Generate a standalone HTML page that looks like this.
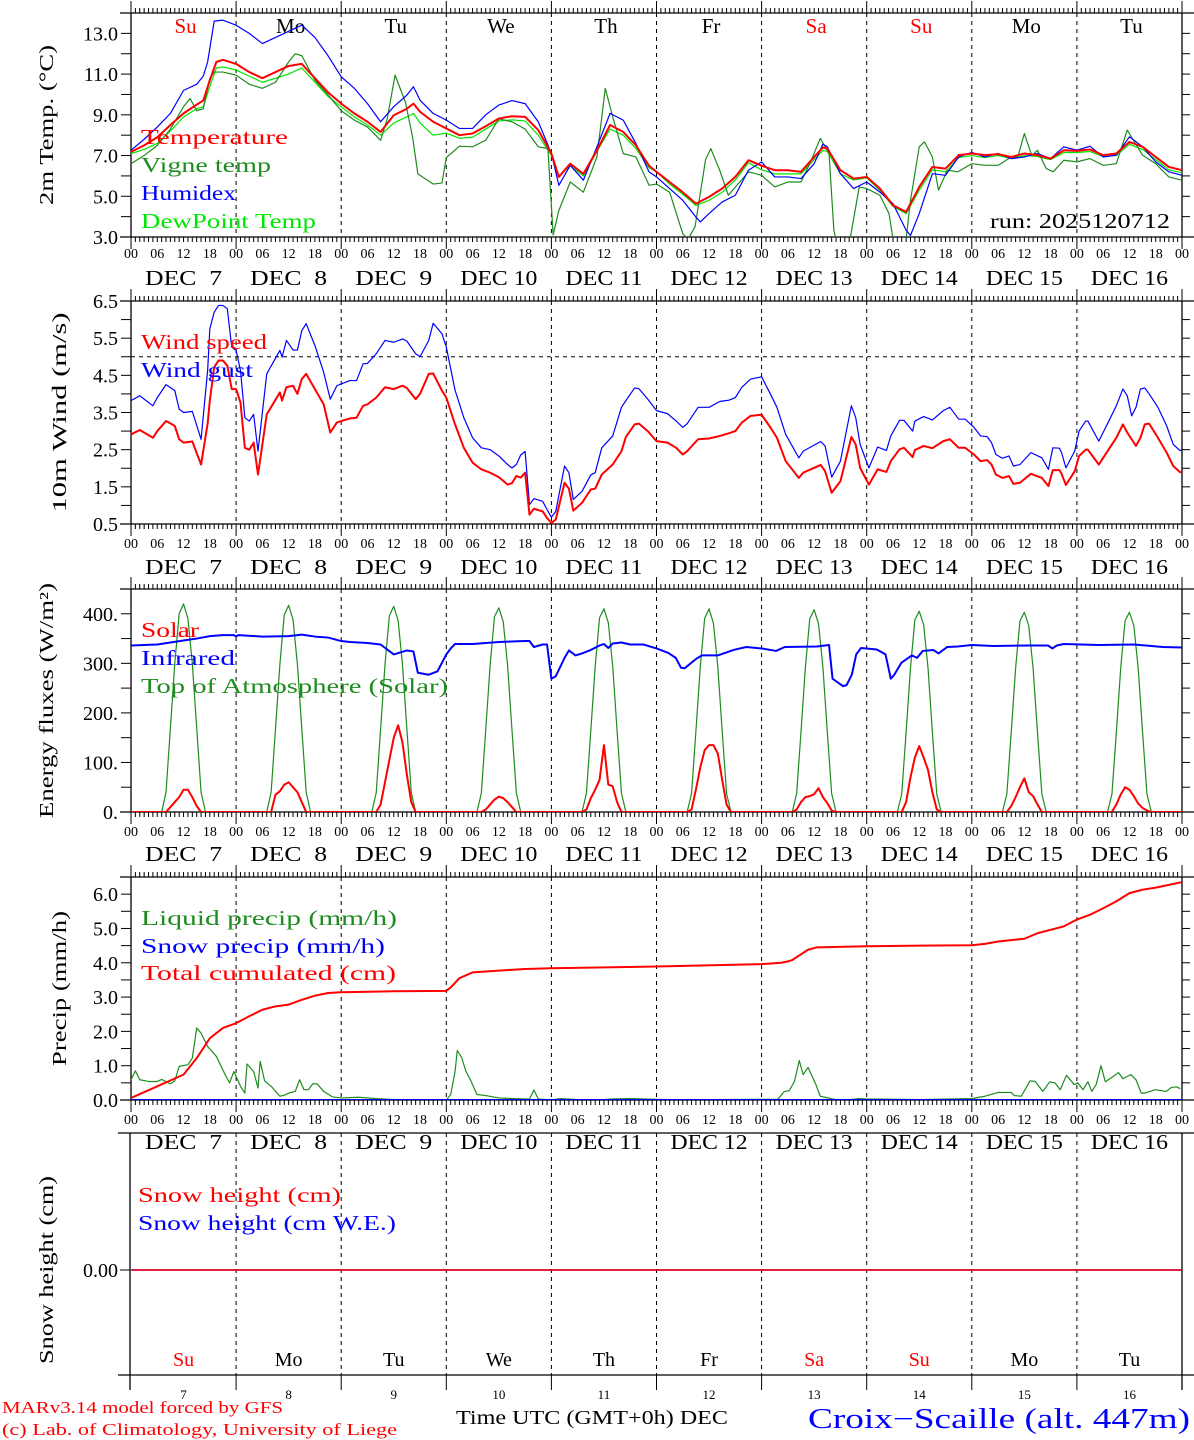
<!DOCTYPE html>
<html><head><meta charset="utf-8"><style>
html,body{margin:0;padding:0;background:#fff;}
svg{display:block;}
</style></head><body>
<svg id="chart" xmlns="http://www.w3.org/2000/svg" width="1194" height="1440" viewBox="0 0 1194 1440">
<defs>
<clipPath id="c1"><rect x="131" y="13" width="1051" height="224"/></clipPath>
<clipPath id="c2"><rect x="131" y="301" width="1051" height="223"/></clipPath>
<clipPath id="c3"><rect x="131" y="589" width="1051" height="223"/></clipPath>
<clipPath id="c4"><rect x="131" y="877" width="1051" height="223"/></clipPath>
</defs>
</svg>
<script>
// ---------- DATA ----------
const dayNames = ["Su","Mo","Tu","We","Th","Fr","Sa","Su","Mo","Tu"];
const dayNameRed = [true,false,false,false,false,false,true,true,false,false];
const dayNumbers = ["7","8","9","10","11","12","13","14","15","16"];
const hourLabels = ["00","06","12","18"];

// Panel 1: temperatures
const tHours = [0,3,6,9,12,15,16.5,18,19.5,21,24,27,30,33,36,39,42,45,48,51,54,57,60,63,64.5,66,69,72,75,78,81,84,87,90,93,96,97.7,100.3,103.3,106.4,109.4,112.4,115.3,118.3,120,123,126,129,132,135,138,141,144,147,150,153,156,158,159,162,165,168,171,174,177,180,183,186,189,192,195,198,201,204,207,210,213,216,219,222,225,228,231,234,237,240];
const tempVals = [7.18,7.5,7.9,8.5,9.07,9.5,9.7,10.7,11.6,11.7,11.5,11.1,10.8,11.1,11.4,11.5,10.8,10.1,9.55,9.07,8.66,8.16,8.98,9.3,9.55,9.15,8.66,8.33,8.0,8.08,8.44,8.82,8.93,8.9,8.25,7.1,5.95,6.6,6.1,7.26,8.5,8.16,7.5,6.5,6.2,5.7,5.2,4.64,4.97,5.38,5.95,6.77,6.5,6.28,6.28,6.2,6.93,7.4,7.34,6.28,5.87,5.95,5.38,4.56,4.23,5.46,6.44,6.36,7.02,7.1,7.02,7.07,6.93,7.1,7.02,6.85,7.26,7.23,7.3,7.02,7.1,7.67,7.43,6.93,6.44,6.28];
const dewVals = [7.1,7.3,7.6,8.2,8.9,9.3,9.4,10.4,11.3,11.35,11.2,10.9,10.6,10.8,11.0,11.3,10.6,9.9,9.4,8.9,8.5,8.0,8.6,8.9,9.07,8.6,8.0,8.1,7.85,7.9,8.3,8.7,8.75,8.7,8.0,7.0,6.0,6.5,6.0,7.2,8.3,8.0,7.35,6.4,6.2,5.6,5.1,4.55,4.8,5.2,5.8,6.65,6.3,6.1,6.1,6.1,6.8,7.25,7.2,6.1,5.8,5.9,5.3,4.5,4.15,5.3,6.3,6.2,6.9,7.0,6.9,7.0,6.85,7.0,6.95,6.8,7.15,7.15,7.2,6.95,7.0,7.55,7.3,6.8,6.3,6.15];
const humHours = [0,3,6,9,12,15,16.5,17.5,19,21,24,27,30,33,36,39,42,45,48,51,54,57,60,63,64.5,66,69,72,75,78,81,84,87,90,93,96,97.7,100.3,103.3,106.4,109.4,112.4,115.3,118.3,120,123,126,129,130,132,135,138,141,144,147,150,153,156,158,159,162,165,168,171,174,177,178,180,183,186,189,192,195,198,201,204,207,210,213,216,219,222,225,228,231,234,237,240];
const humVals = [7.26,7.8,8.4,9.07,10.2,10.5,10.9,11.6,13.6,13.65,13.4,13.0,12.5,12.8,13.1,13.4,12.8,11.9,10.87,10.3,9.55,8.66,9.4,9.97,10.38,9.72,9.07,8.74,8.33,8.33,9.0,9.48,9.7,9.55,8.66,7.1,5.54,6.52,5.79,7.43,9.07,8.74,7.59,6.2,5.95,5.38,4.8,3.98,3.74,4.15,4.72,5.05,6.28,6.69,5.95,5.95,5.87,6.6,7.56,7.43,6.11,5.38,5.7,5.21,4.64,3.33,3.08,4.15,6.11,6.03,6.93,7.15,6.93,7.1,6.85,6.93,7.1,6.85,7.43,7.26,7.46,6.93,7.02,7.92,7.43,6.69,6.2,6.03];
const vigHours = [0,3,6,9,12,13.5,15,16.5,18,19,21,24,27,30,33,36,37.5,39,42,45,48,51,54,57,58.5,60.3,62.7,64.3,65.5,69,71,72,75,78,81,84,87,90,93,95.2,96.4,97.7,100.3,103.3,106.4,108.3,110,112.4,115.3,118.3,120,123,126,127.2,128.8,131.2,132.4,134.4,136.4,141,144,147,150,153,155,157.4,159.4,160.5,161.4,164.2,166.3,168,171,173.1,174,177,178,180,181.2,183,184.4,186.4,188.8,192,195,198,201,202.5,204,205.7,207,209,210.6,213,216,219,222,225,227.5,231,234,237,240];
const vigVals = [6.6,7.0,7.5,8.3,9.4,9.8,9.2,9.3,10.8,11.1,11.1,10.95,10.5,10.3,10.6,11.6,12.0,11.9,10.7,9.97,9.2,8.74,8.4,7.75,8.8,10.95,9.6,7.9,6.1,5.6,5.65,6.9,7.46,7.43,7.75,8.8,8.66,8.3,7.43,7.34,3.1,4.3,5.7,5.2,6.93,10.3,8.9,7.1,6.93,5.54,5.6,5.2,3.16,2.9,3.5,6.8,7.34,6.3,5.05,6.2,6.03,5.46,5.7,5.7,6.6,7.84,7.1,3.33,2.5,2.9,5.46,5.38,5.05,4.15,2.9,2.9,4.8,7.43,7.67,6.93,5.3,6.28,6.2,6.6,6.52,6.52,6.93,6.93,8.08,7.0,7.26,6.36,6.2,6.77,6.69,6.85,6.52,6.6,8.25,7.02,6.6,5.95,5.79];

// Panel 2: wind
const windHours = [0,2,5,6,8,10,11,12,14,16,17.5,18,19,20,21,22,23,24,25,26,27,28,29,31,34,34.5,35.5,37,38,39,40,42,44,45.5,47,48,50,51.5,53,54,56,58,60,62,63,65,66,68,69,71,72,74,76,78,80,82,84,86,87,88,89,90,91,92,94,95,96,97,99,100,101,103,105,106,107.5,110,112,113,115,116,118,
 120,122.5,124.5,126,127,129.5,132,134.5,136.5,138,139.5,141.5,144,146,147.5,149.5,152.5,153.5,157.5,158.5,160,162,164.5,165.5,166.5,168.5,170.5,172.5,173.5,175.5,176.5,178.5,179,181,183,185.5,187,189,190.5,192.5,194,195.5,196.5,197.5,199,200.5,201.5,203,205.5,208,209.5,210.5,212,212.5,213.5,215.5,216.5,218,218.5,221,223.5,225,226.5,227.5,228.5,229.5,230.5,231.5,232.5,234.5,236.5,238,239.5,240];
const windSpeed = [2.91,3.03,2.82,3.0,3.27,3.14,2.78,2.69,2.72,2.1,3.2,3.82,4.72,4.9,4.9,4.76,4.13,4.13,3.77,2.55,2.5,2.69,1.83,3.45,4.04,3.82,4.18,4.22,4.0,4.4,4.54,4.13,3.72,2.96,3.23,3.27,3.34,3.36,3.68,3.72,3.9,4.18,4.13,4.22,4.16,3.86,4.0,4.54,4.55,4.09,3.9,3.18,2.55,2.15,1.97,1.88,1.76,1.56,1.6,1.79,1.75,1.88,0.75,0.91,0.84,0.66,0.53,0.62,1.61,1.45,0.86,1.07,1.43,1.45,1.83,2.1,2.46,2.84,3.18,3.2,3.0,
 2.73,2.69,2.55,2.37,2.46,2.78,2.8,2.87,2.94,3.0,3.23,3.41,3.44,3.1,2.82,2.19,1.74,1.88,2.09,1.92,1.34,1.65,2.84,2.64,2.01,1.56,1.97,1.9,2.19,2.51,2.55,2.3,2.49,2.6,2.54,2.73,2.78,2.55,2.55,2.37,2.19,2.22,2.1,1.83,1.74,1.79,1.58,1.61,1.85,1.74,1.52,1.95,1.95,1.85,1.55,1.92,2.33,2.5,2.5,2.1,2.55,2.82,3.18,2.96,2.78,2.6,2.82,3.18,3.2,2.82,2.42,2.06,1.9,1.88];
const windGust = [3.82,3.95,3.68,3.9,4.25,4.09,3.59,3.5,3.53,2.78,4.63,5.75,6.2,6.38,6.38,6.29,5.26,5.17,4.63,3.36,3.27,3.45,2.46,4.54,5.17,4.99,5.44,5.18,5.18,5.7,5.89,5.3,4.58,3.86,4.22,4.27,4.36,4.36,4.81,4.82,5.08,5.44,5.39,5.48,5.42,5.08,5.0,5.44,5.9,5.62,5.26,4.1,3.36,2.82,2.55,2.5,2.33,2.1,2.01,2.1,2.36,2.45,1.02,1.18,1.11,0.89,0.68,0.84,2.06,1.88,1.16,1.38,1.82,1.88,2.55,2.87,3.64,3.82,4.16,4.14,3.86,
 3.55,3.47,3.27,3.1,3.2,3.64,3.64,3.8,3.83,3.9,4.18,4.4,4.46,4.0,3.64,2.91,2.28,2.46,2.72,2.6,1.76,2.19,3.68,3.36,2.64,2.01,2.57,2.48,2.87,3.29,3.29,3.0,3.27,3.39,3.3,3.55,3.64,3.32,3.32,3.1,2.87,2.85,2.69,2.37,2.27,2.33,2.06,2.1,2.42,2.28,1.97,2.55,2.54,2.42,2.01,2.46,3.0,3.27,3.27,2.73,3.32,3.68,4.13,3.95,3.41,3.64,4.13,4.16,4.0,3.64,3.14,2.64,2.48,2.48];

// Panel 3: energy fluxes (day profiles, hours 7..17 of each day)
const fluxDayHours = [7,8,9,10,11,12,13,14,15,16,17];
const solarByDay = [
 [0,0,10,20,30,45,45,30,12,0,0],
 [0,0,35,42,55,60,50,40,20,0,0],
 [0,0,15,60,105,150,175,140,75,20,0],
 [0,0,5,15,25,31,28,20,10,0,0],
 [0,5,28,45,65,135,55,52,20,0,0],
 [0,5,45,90,125,135,135,118,65,15,0],
 [0,5,20,30,32,36,48,30,18,3,0],
 [0,0,20,70,110,133,110,85,40,5,0],
 [0,0,12,30,50,68,40,32,15,0,0],
 [0,0,15,35,50,45,32,17,8,3,0]];
const toaByDay = [
 [0,40,170,300,400,420,390,300,170,40,0],
 [0,40,168,298,398,417,388,298,168,40,0],
 [0,39,167,297,396,415,386,297,167,39,0],
 [0,38,165,295,394,412,384,295,165,38,0],
 [0,38,164,294,392,410,382,294,164,38,0],
 [0,37,163,293,391,410,381,293,163,37,0],
 [0,37,162,292,390,408,380,292,162,37,0],
 [0,36,161,291,388,405,378,291,161,36,0],
 [0,36,160,290,386,403,376,290,160,36,0],
 [0,36,160,290,386,403,376,290,160,36,0]];
const irHours = [0,6,12,15,18,21,23.5,24,24.5,30,36,39,42,45,48,50,54,57,60,63,64.5,65.5,68,70,72,73,74,78,84,90,91,92,94,95,96,97,99,100,101.5,103,105,107,108,109,110,112,114,117,120,122.7,124.4,125.6,126.4,129.2,130.4,134,137.6,140.5,144,147.3,149.3,156.6,159.4,160.2,162.6,163.4,164.6,165.6,166.7,170.3,172.3,173.5,174.3,175.9,178.3,179.5,180.8,183.2,184.4,186.4,188.8,192,196.9,204.9,209.4,210.4,211.4,213,221,229.1,235.6,240];
const irVals = [336,338,346,350,355,357,357,354,357,354,355,358,354,352,345,343,341,338,318,326,324,281,277,284,318,330,339,339,343,345,345,333,338,338,269,274,311,326,316,320,327,336,339,331,340,342,338,338,330,321,311,291,290,310,316,316,327,333,330,325,333,334,337,269,254,256,277,318,331,328,318,269,277,301,316,311,325,327,320,333,334,337,335,336,336,330,336,339,337,338,333,332];

// Panel 4: precipitation
const cumHours = [0,6,12,15,18,21,24,27,30,33,36,39,42,45,48,60,72,73,75,78,84,90,96,120,144,148.5,150,151,152.2,154.6,156.6,168,180,192,195,198,201,204,207,210,213,216,219,222,225,228,231,234,237,240];
const cumVals = [0.06,0.4,0.74,1.22,1.8,2.1,2.24,2.44,2.63,2.73,2.78,2.92,3.04,3.12,3.14,3.17,3.18,3.28,3.55,3.72,3.77,3.82,3.84,3.89,3.96,4.0,4.04,4.08,4.18,4.38,4.45,4.48,4.5,4.51,4.55,4.62,4.66,4.7,4.86,4.96,5.06,5.26,5.4,5.59,5.79,6.03,6.13,6.19,6.27,6.35];
const liqHours = [0,1,2,4,6,7,9,10,11,13,14,15,16,17.5,19.5,21.5,22.5,23.5,25,26,26.5,28,29,29.5,30.5,32,34,35,36,37.5,38.5,39.5,40.5,41.5,42.5,44,46,48,52,56,60,64,72,73,74,74.5,75.5,76.5,77.5,79,81,84,90,91,92,93,96,98,102,108,110,114,120,126,132,144,147.7,149.2,150.3,151.5,152.6,153.5,154.6,156.4,157.4,160.6,163.4,166.3,168,180,192,195,198,201,201.7,203.3,205.3,206.5,208.2,209.8,211,212.2,213.6,215.4,216.2,217.4,218.5,219.4,220.4,221.5,222.5,224.3,225.5,226.5,228.3,229.5,230.7,231.5,233.9,236.4,237.6,238.8,239.6];
const liqVals = [0.59,0.85,0.59,0.54,0.54,0.6,0.47,0.56,0.98,1.03,1.22,2.1,1.95,1.56,1.27,0.74,0.5,0.83,0.4,0.2,1.05,0.83,0.35,1.13,0.56,0.4,0.11,0.14,0.2,0.25,0.59,0.3,0.3,0.47,0.47,0.25,0.09,0.06,0.08,0.04,0.01,0,0,0.16,0.83,1.44,1.24,0.83,0.59,0.16,0.13,0.06,0.03,0.03,0.29,0.03,0,0.04,0.01,0.01,0.03,0.04,0.02,0,0.01,0.02,0.02,0.25,0.27,0.54,1.15,0.74,0.95,0.45,0.11,0.02,0,0.04,0.03,0.01,0.04,0.11,0.22,0.22,0.13,0.11,0.56,0.54,0.25,0.53,0.5,0.3,0.72,0.45,0.5,0.3,0.53,0.25,0.45,1.0,0.53,0.69,0.8,0.62,0.74,0.59,0.2,0.2,0.3,0.25,0.37,0.38,0.33];
const snowPrecipHours = [0,240];
const snowPrecipVals = [0,0];

// Panel 5: snow height
const snowHours = [0,240];
const snowCmVals = [0,0];
const snowWeVals = [0,0];

// ---------- DRAWING ----------
const NS = "http://www.w3.org/2000/svg";
const svg = document.getElementById("chart");
const X0 = 131, X1 = 1182;
function xOf(h){ return X0 + h*(X1-X0)/240; }
function mk(tag, attrs, parent){
  const el = document.createElementNS(NS, tag);
  for (const k in attrs) el.setAttribute(k, attrs[k]);
  (parent||svg).appendChild(el);
  return el;
}
function txt(x, y, s, o){
  o = o||{};
  const el = mk("text", {x:x, y:y, "font-family":o.ff||"'Liberation Serif', serif", "font-size":o.fs||16, fill:o.fill||"#000", "text-anchor":o.anchor||"start"}, o.parent);
  if (o.len){ el.setAttribute("textLength", o.len); el.setAttribute("lengthAdjust","spacingAndGlyphs"); }
  if (o.rot){ el.setAttribute("transform","rotate(-90 "+x+" "+y+")"); }
  el.textContent = s;
  return el;
}
function line(x1,y1,x2,y2,stroke,w,dash,parent){
  const a = {x1:x1,y1:y1,x2:x2,y2:y2,stroke:stroke||"#000","stroke-width":w||1};
  if (dash) a["stroke-dasharray"] = dash;
  return mk("line", a, parent);
}
function series(hours, vals, yOf, color, width, clip, name){
  let d = "";
  for (let i=0;i<hours.length;i++){
    d += (i?"L":"M") + xOf(hours[i]).toFixed(2) + "," + yOf(vals[i]).toFixed(2);
  }
  const p = mk("path", {d:d, fill:"none", stroke:color, "stroke-width":width, "stroke-linejoin":"round", "clip-path":"url(#"+clip+")"});
  
  
  return p;
}

function panel(cfg){
  const g = mk("g", {});
  
  
  const yOf = v => cfg.bottom - (v-cfg.ymin)*(cfg.bottom-cfg.top)/(cfg.ymax-cfg.ymin);
  line(120, cfg.top, 1194, cfg.top, "#000", 1.3, null, g);
  line(120, cfg.bottom, 1194, cfg.bottom, "#000", 1.3, null, g);
  line(X0, cfg.top, X0, cfg.bottom, "#000", 1.3, null, g);
  line(X1, cfg.top, X1, cfg.bottom, "#000", 1.3, null, g);
  for (let d=1; d<10; d++){
    const x = xOf(d*24);
    line(x, cfg.top, x, cfg.bottom, "#000", 1, "4,4", g);
  }
  for (let h=0; h<=240; h++){
    const x = xOf(h);
    const len = (h%24===0) ? 12 : 5;
    line(x, cfg.top-len, x, cfg.top, "#000", 1, null, g);
    line(x, cfg.bottom, x, cfg.bottom+len, "#000", 1, null, g);
  }
  for (let v=cfg.ymin; v<=cfg.ymax+1e-6; v+=cfg.tickStep){
    const y = yOf(v);
    line(121, y, X0, y, "#000", 1, null, g);
    line(X1, y, 1190, y, "#000", 1, null, g);
  }
  cfg.yLabels.forEach(lbl => {
    const t = txt(118, yOf(parseFloat(lbl))+7, lbl, {anchor:"end", fs:20, parent:g});
    
    
  });
  for (let d=0; d<=10; d++){
    for (let k=0; k<4; k++){
      if (d===10 && k>0) break;
      const x = xOf(d*24 + k*6);
      const t = txt(x, cfg.bottom+cfg.hlOff, hourLabels[k], {anchor:"middle", fs:14, parent:g});
      
      
    }
  }
  for (let d=0; d<10; d++){
    const cx = xOf(d*24+12);
    const s = "DEC " + (dayNumbers[d].length===1 ? " " : "") + dayNumbers[d];
    const t = txt(cx, cfg.bottom+cfg.dlOff, s, {anchor:"middle", fs:21, len:77, parent:g});
    t.setAttribute("xml:space","preserve");
    t.style.whiteSpace = "pre";
    
    
  }
  const yt = txt(cfg.titleX, (cfg.top+cfg.bottom)/2, cfg.title, {anchor:"middle", fs:20, rot:true, len:cfg.titleLen, parent:g});
  
  
  return yOf;
}

// ---- Panel 1
const y1 = panel({name:"temperature-panel", top:13, bottom:237, ymin:3, ymax:14, tickStep:1,
  yLabels:["13.0","11.0","9.0","7.0","5.0","3.0"], hlOff:21, dlOff:48, title:"2m Temp. (\u00B0C)", titleX:53, titleLen:160});
for (let d=0; d<10; d++){
  const t = txt(xOf(d*24+12)+2, 33, dayNames[d], {anchor:"middle", fs:21, fill: dayNameRed[d]?"#ff0000":"#000"});
  
  
}
series(tHours, dewVals, y1, "#00e600", 1.2, "c1", "dewpoint-line");
series(vigHours, vigVals, y1, "#1e8c1e", 1.2, "c1", "vigne-temp-line");
series(humHours, humVals, y1, "#0000ff", 1.2, "c1", "humidex-line");
series(tHours, tempVals, y1, "#ff0000", 2, "c1", "temperature-line");
[["Temperature","#ff0000",144,147],["Vigne temp","#1e8c1e",172,130],["Humidex","#0000ff",200,95],["DewPoint Temp","#00e600",228,175]].forEach(l=>{
  const t = txt(141, l[2], l[0], {fill:l[1], fs:21, len:l[3]});
  
  
});
{ const t = txt(990, 228, "run: 2025120712", {fs:21, len:180});
  
   }

// ---- Panel 2
const y2 = panel({name:"wind-panel", top:301, bottom:524, ymin:0.5, ymax:6.5, tickStep:0.5,
  yLabels:["6.5","5.5","4.5","3.5","2.5","1.5","0.5"], hlOff:24, dlOff:50, title:"10m Wind (m/s)", titleX:66, titleLen:200});
{ const y = y2(5.0); const l = line(X0, y, X1, y, "#000", 1, "4,4");
  
   }
series(windHours, windGust, y2, "#0000ff", 1.2, "c2", "wind-gust-line");
series(windHours, windSpeed, y2, "#ff0000", 2, "c2", "wind-speed-line");
[["Wind speed","#ff0000",349,126],["Wind gust","#0000ff",377,112]].forEach(l=>{
  const t = txt(141, l[2], l[0], {fill:l[1], fs:21, len:l[3]});
  
  
});

// ---- Panel 3
const y3 = panel({name:"energy-panel", top:589, bottom:812, ymin:0, ymax:450, tickStep:50,
  yLabels:["400.","300.","200.","100.","0."], hlOff:24, dlOff:49, title:"Energy fluxes (W/m\u00B2)", titleX:53, titleLen:235});
function dayProfile(byDay){
  const hs=[0], vs=[0];
  for (let d=0; d<10; d++){
    for (let i=0;i<fluxDayHours.length;i++){ hs.push(d*24+fluxDayHours[i]); vs.push(byDay[d][i]); }
  }
  hs.push(240); vs.push(0);
  return [hs,vs];
}
const toaP = dayProfile(toaByDay);
series(toaP[0], toaP[1], y3, "#1e8c1e", 1.2, "c3", "toa-solar-line");
const solP = dayProfile(solarByDay);
series(solP[0], solP[1], y3, "#ff0000", 2, "c3", "solar-line");
series(irHours, irVals, y3, "#0000ff", 2, "c3", "infrared-line");
[["Solar","#ff0000",637,58],["Infrared","#0000ff",665,94],["Top of Atmosphere (Solar)","#1e8c1e",693,307]].forEach(l=>{
  const t = txt(141, l[2], l[0], {fill:l[1], fs:21, len:l[3]});
  
  
});

// ---- Panel 4
const y4 = panel({name:"precip-panel", top:877, bottom:1100, ymin:0, ymax:6.5, tickStep:0.5,
  yLabels:["6.0","5.0","4.0","3.0","2.0","1.0","0.0"], hlOff:24, dlOff:49, title:"Precip (mm/h)", titleX:66, titleLen:155});
series(liqHours, liqVals, y4, "#1e8c1e", 1.2, "c4", "liquid-precip-line");
series(snowPrecipHours, snowPrecipVals, y4, "#0000ff", 2, "c4", "snow-precip-line");
series(cumHours, cumVals, y4, "#ff0000", 2, "c4", "cumulated-precip-line");
[["Liquid precip (mm/h)","#1e8c1e",925,256],["Snow precip (mm/h)","#0000ff",953,244],["Total cumulated (cm)","#ff0000",980,255]].forEach(l=>{
  const t = txt(141, l[2], l[0], {fill:l[1], fs:21, len:l[3]});
  
  
});

// ---- Panel 5 (snow)
(function(){
  const cp = mk("clipPath", {id:"c5"}, svg.querySelector("defs"));
  mk("rect", {x:131, y:1133, width:1051, height:242}, cp);
})();
{
  const g = mk("g", {});
  
  
  const top=1133, bot=1375;
  line(118, top, 1194, top, "#000", 1.3, null, g);
  line(118, bot, 1194, bot, "#000", 1.3, null, g);
  line(130, top, 130, 1390, "#000", 1.3, null, g);
  line(X1, top, X1, 1390, "#000", 1.3, null, g);
  for (let d=1; d<10; d++){
    const x = xOf(d*24);
    line(x, top, x, bot, "#000", 1, "4,4", g);
    line(x, bot, x, 1390, "#000", 1, null, g);
  }
  const y5 = v => 1270 - v*100;
  line(120, y5(0), 130, y5(0), "#000", 1, null, g);
  const tl = txt(118, y5(0)+7, "0.00", {anchor:"end", fs:20, parent:g});
  
  
  const yt = txt(53, 1270, "Snow height (cm)", {anchor:"middle", fs:20, rot:true, len:188, parent:g});
  
  
  series(snowHours, snowWeVals, y5, "#0000ff", 1.5, "c5", "snow-we-line");
  series(snowHours, snowCmVals, y5, "#ff0000", 1.5, "c5", "snow-height-line");
  [["Snow height (cm)","#ff0000",1202,203],["Snow height (cm W.E.)","#0000ff",1230,258]].forEach(l=>{
    const t = txt(138, l[2], l[0], {fill:l[1], fs:21, len:l[3], parent:g});
    
    
  });
  for (let d=0; d<10; d++){
    const cx = xOf(d*24+12);
    const t = txt(cx, 1366, dayNames[d], {anchor:"middle", fs:20, fill: dayNameRed[d]?"#ff0000":"#000", parent:g});
    
    
    const n = txt(cx, 1399, dayNumbers[d], {anchor:"middle", fs:13, parent:g});
    
    
  }
}

// ---- Footer
{ let t = txt(2, 1413, "MARv3.14 model forced by GFS", {fill:"#ff0000", fs:17, len:281});
  
  
  t = txt(2, 1435, "(c) Lab. of Climatology, University of Liege", {fill:"#ff0000", fs:17, len:395});
  
  
  t = txt(456, 1424, "Time UTC (GMT+0h) DEC", {fs:20, len:272});
  
  
  t = txt(808, 1428, "Croix\u2212Scaille (alt. 447m)", {fill:"#0000ff", fs:28, len:382});
  
  
}
</script>
</body></html>
